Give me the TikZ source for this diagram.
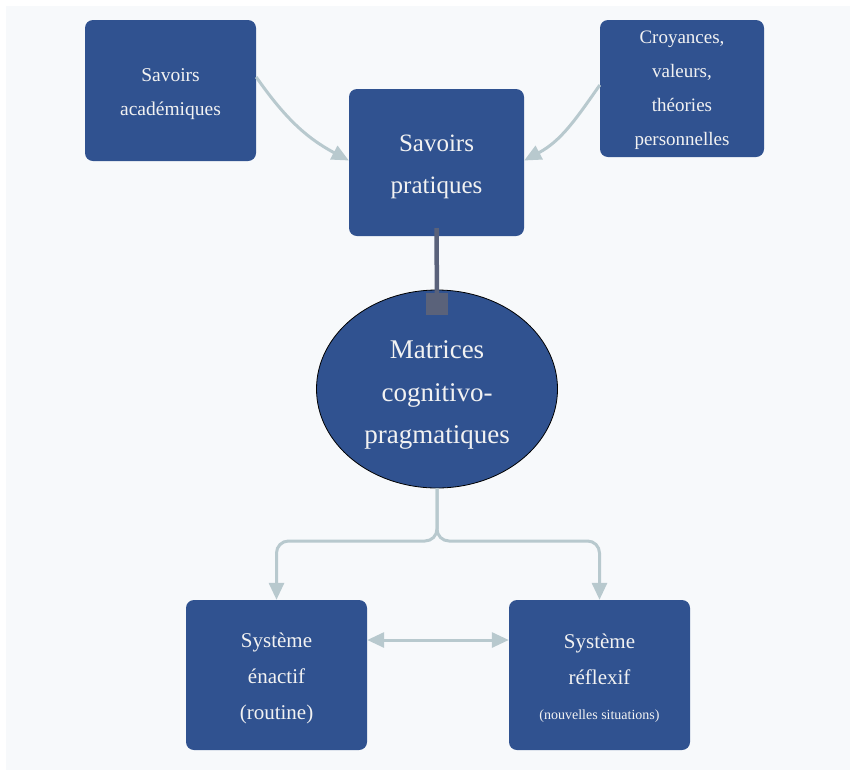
\documentclass[tikz,border=0pt]{standalone}
\usepackage{fontspec}
\setmainfont{Liberation Serif}
\usetikzlibrary{arrows.meta,shapes.geometric}
\definecolor{boxblue}{RGB}{48,82,144}
\definecolor{arrowgray}{RGB}{184,201,206}
\definecolor{sqgray}{RGB}{90,98,122}
\definecolor{bgcol}{RGB}{247,249,251}
\definecolor{txt}{RGB}{242,242,242}
\tikzset{
  boxnode/.style={fill=boxblue, rounded corners=8pt, inner sep=0pt},
  boxtext/.style={align=center, text=txt, inner sep=0pt},
  flow/.style={draw=arrowgray, line width=3pt, -{Triangle[width=15pt,length=17pt]}},
  flowb/.style={draw=arrowgray, line width=3pt, {Triangle[width=15pt,length=17pt]}-{Triangle[width=15pt,length=17pt]}},
}
\begin{document}
\begin{tikzpicture}[x=1pt,y=-1pt]
\useasboundingbox (0,0) rectangle (850,769);
\fill[bgcol] (6,6) rectangle (870,790);

\node[boxnode, minimum width=171pt, minimum height=141pt,
  label={[boxtext, font=\fontsize{19.5}{34}\selectfont, yshift=-4pt]center:{Savoirs\\acad\'emiques}}] (acad) at (170.5,90.5) {};
\node[boxnode, minimum width=164pt, minimum height=137pt,
  label={[boxtext, font=\fontsize{19}{34}\selectfont, yshift=-2pt]center:{Croyances,\\valeurs,\\th\'eories\\personnelles}}] (croy) at (682,88.5) {};
\node[boxnode, minimum width=175pt, minimum height=147pt,
  label={[boxtext, font=\fontsize{25}{42}\selectfont, yshift=-4pt]center:{Savoirs\\pratiques}}] (prat) at (436.5,162.5) {};
\node[ellipse, draw=black, line width=0.8pt, fill=boxblue, inner sep=0pt, minimum width=241pt, minimum height=198pt,
  label={[boxtext, font=\fontsize{27}{42.5}\selectfont, yshift=-6pt]center:{Matrices\\cognitivo-\\pragmatiques}}] (matr) at (437,389) {};
\node[boxnode, minimum width=181pt, minimum height=150pt,
  label={[boxtext, font=\fontsize{21}{36}\selectfont, yshift=-3pt]center:{Syst\`eme\\\'enactif\\(routine)}}] (enact) at (276.5,675) {};
\node[boxnode, minimum width=181pt, minimum height=150pt,
  label={[boxtext, font=\fontsize{21}{36}\selectfont, yshift=-3pt]center:{Syst\`eme\\r\'eflexif\\[-1pt]{\fontsize{14}{16}\selectfont (nouvelles situations)}}}] (refl) at (599.5,675) {};

\node[fill=sqgray, minimum size=22pt, inner sep=0pt] (sq) at (437,304) {};
\draw[sqgray, line width=4.5pt] ([yshift=8pt]prat.south) -- (sq.center);

\draw[flow] ([yshift=13.5pt]acad.east) to[out=-55,in=152] ([yshift=2pt]prat.west);
\draw[flow] ([yshift=3.5pt]croy.west) to[out=-125,in=28] ([yshift=2pt]prat.east);

\coordinate (split) at (437,541);
\draw[flow, rounded corners=12pt] (matr.south) -- (split) -- (enact.north |- split) -- (enact.north);
\draw[flow, rounded corners=12pt] (matr.south) -- (split) -- (refl.north |- split) -- (refl.north);

\draw[flowb] ([yshift=35pt]enact.east) -- ([yshift=35pt]refl.west);
\end{tikzpicture}
\end{document}
